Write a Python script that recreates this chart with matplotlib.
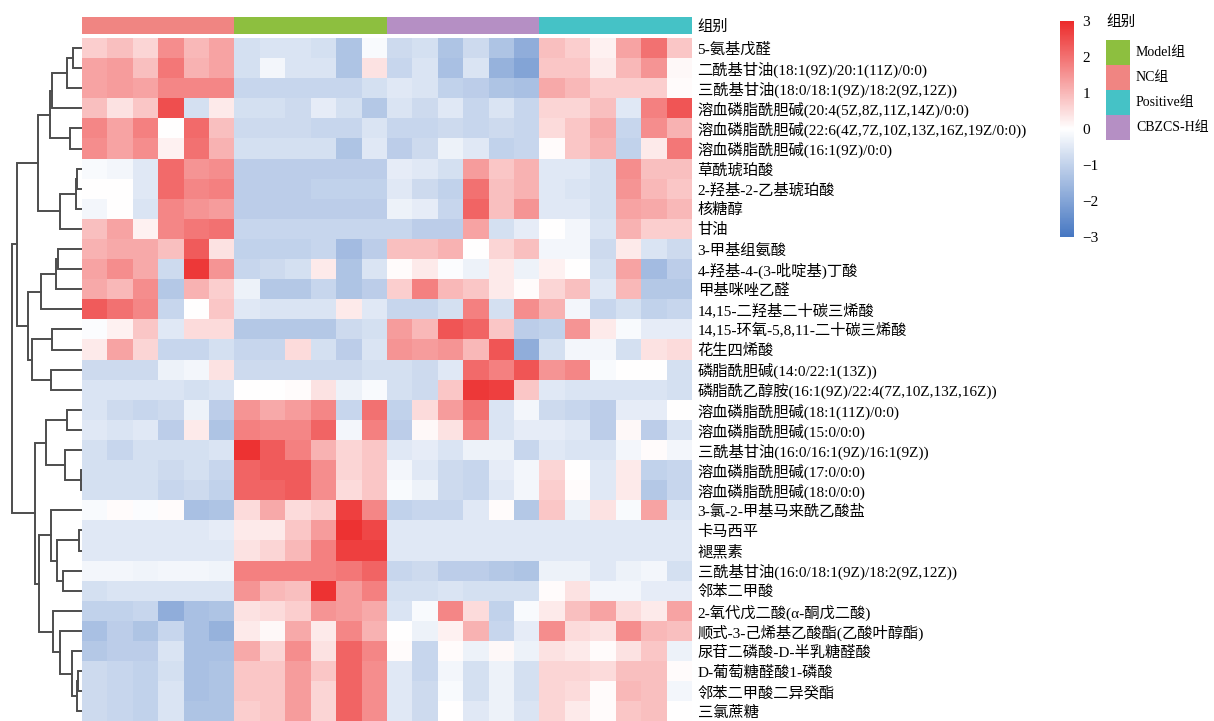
import numpy as np
import matplotlib
matplotlib.use("Agg")
import matplotlib.pyplot as plt
from matplotlib.colors import LinearSegmentedColormap, ListedColormap

plt.rcParams['font.family'] = ['Liberation Serif', 'Noto Sans CJK SC']

metabolites = [
    '5-氨基戊醛',
    '二酰基甘油(18:1(9Z)/20:1(11Z)/0:0)',
    '三酰基甘油(18:0/18:1(9Z)/18:2(9Z,12Z))',
    '溶血磷脂酰胆碱(20:4(5Z,8Z,11Z,14Z)/0:0)',
    '溶血磷脂酰胆碱(22:6(4Z,7Z,10Z,13Z,16Z,19Z/0:0))',
    '溶血磷脂酰胆碱(16:1(9Z)/0:0)',
    '草酰琥珀酸',
    '2-羟基-2-乙基琥珀酸',
    '核糖醇',
    '甘油',
    '3-甲基组氨酸',
    '4-羟基-4-(3-吡啶基)丁酸',
    '甲基咪唑乙醛',
    '14,15-二羟基二十碳三烯酸',
    '14,15-环氧-5,8,11-二十碳三烯酸',
    '花生四烯酸',
    '磷脂酰胆碱(14:0/22:1(13Z))',
    '磷脂酰乙醇胺(16:1(9Z)/22:4(7Z,10Z,13Z,16Z))',
    '溶血磷脂酰胆碱(18:1(11Z)/0:0)',
    '溶血磷脂酰胆碱(15:0/0:0)',
    '三酰基甘油(16:0/16:1(9Z)/16:1(9Z))',
    '溶血磷脂酰胆碱(17:0/0:0)',
    '溶血磷脂酰胆碱(18:0/0:0)',
    '3-氯-2-甲基马来酰乙酸盐',
    '卡马西平',
    '褪黑素',
    '三酰基甘油(16:0/18:1(9Z)/18:2(9Z,12Z))',
    '邻苯二甲酸',
    '2-氧代戊二酸(α-酮戊二酸)',
    '顺式-3-己烯基乙酸酯(乙酸叶醇酯)',
    '尿苷二磷酸-D-半乳糖醛酸',
    'D-葡萄糖醛酸1-磷酸',
    '邻苯二甲酸二异癸酯',
    '三氯蔗糖',
]

# column groups, left to right
groups = ['NC组', 'Model组', 'CBZCS-H组', 'Positive组']
group_colors = {'NC组': '#F08582', 'Model组': '#8DBF3F',
                'CBZCS-H组': '#B58FC4', 'Positive组': '#45C2C6'}
legend_order = ['Model组', 'NC组', 'Positive组', 'CBZCS-H组']

# z-scored abundance, 6 samples per group
nc_vals = [
    [0.7, 0.9, 0.6, 1.6, 1.0, 1.3],
    [1.3, 1.4, 0.9, 1.9, 1.1, 1.3],
    [1.3, 1.4, 1.3, 1.7, 1.7, 1.7],
    [0.9, 0.4, 0.8, 2.5, -0.7, 0.3],
    [1.7, 1.3, 1.8, 0.0, 2.1, 0.9],
    [1.6, 1.3, 1.6, 0.2, 2.0, 1.1],
    [-0.1, -0.2, -0.5, 2.1, 1.5, 1.6],
    [0.0, 0.0, -0.5, 2.1, 1.7, 1.8],
    [-0.2, 0.0, -0.6, 1.7, 1.5, 1.4],
    [0.9, 1.3, 0.2, 1.7, 1.9, 2.0],
    [1.1, 1.2, 1.2, 0.9, 2.3, 0.4],
    [1.3, 1.6, 1.2, -0.8, 2.8, 1.5],
    [1.2, 1.0, 1.6, -1.2, 1.1, 0.7],
    [2.3, 2.0, 1.7, -0.9, 0.0, 0.8],
    [-0.05, 0.2, 0.8, -0.5, 0.5, 0.5],
    [0.3, 1.3, 0.6, -0.9, -0.9, -0.7],
    [-0.8, -0.8, -0.8, -0.3, -0.2, 0.4],
    [-0.6, -0.6, -0.6, -0.6, -0.7, -0.6],
    [-0.6, -0.8, -0.9, -0.8, -0.3, -1.1],
    [-0.5, -0.6, -0.5, -1.1, 0.3, -1.3],
    [-0.7, -0.9, -0.7, -0.7, -0.7, -0.6],
    [-0.7, -0.7, -0.7, -0.8, -0.7, -0.9],
    [-0.7, -0.7, -0.7, -0.9, -0.8, -1.0],
    [-0.1, 0.05, -0.05, 0.05, -1.4, -1.3],
    [-0.5, -0.5, -0.5, -0.5, -0.5, -0.4],
    [-0.5, -0.5, -0.5, -0.5, -0.5, -0.5],
    [-0.2, -0.2, -0.25, -0.2, -0.2, -0.25],
    [-0.7, -0.6, -0.6, -0.6, -0.6, -0.6],
    [-1.0, -1.0, -0.9, -1.8, -1.4, -1.3],
    [-1.4, -1.1, -1.3, -0.9, -1.4, -1.7],
    [-1.2, -1.1, -1.1, -0.6, -1.4, -1.4],
    [-0.8, -0.9, -1.0, -0.7, -1.4, -1.3],
    [-0.8, -0.9, -1.0, -0.6, -1.4, -1.3],
    [-0.8, -0.9, -1.0, -0.6, -1.3, -1.3],
]
model_vals = [
    [-0.7, -0.6, -0.6, -0.7, -1.3, -0.1],
    [-0.7, -0.2, -0.6, -0.6, -1.3, 0.4],
    [-0.9, -0.9, -0.9, -0.9, -0.9, -0.7],
    [-0.7, -0.7, -0.8, -0.4, -0.7, -1.2],
    [-0.8, -0.8, -0.8, -0.9, -0.9, -0.6],
    [-0.7, -0.7, -0.7, -0.7, -1.3, -0.5],
    [-1.1, -1.1, -1.1, -1.1, -1.1, -1.1],
    [-1.1, -1.1, -1.1, -1.0, -1.0, -1.0],
    [-1.1, -1.1, -1.1, -1.1, -1.1, -1.1],
    [-0.9, -0.9, -0.9, -0.9, -0.9, -0.9],
    [-1.0, -1.0, -1.0, -0.9, -1.5, -1.1],
    [-0.9, -0.8, -0.7, 0.3, -1.3, -0.6],
    [-0.3, -1.2, -1.2, -0.9, -1.3, -1.1],
    [-0.5, -0.6, -0.6, -0.6, 0.3, -0.5],
    [-1.2, -1.2, -1.2, -1.2, -0.8, -0.7],
    [-0.9, -0.9, 0.5, -0.7, -1.1, -0.6],
    [-0.8, -0.8, -0.8, -0.8, -0.8, -0.7],
    [0.0, 0.0, 0.05, 0.4, -0.3, -0.1],
    [1.5, 1.2, 1.4, 1.7, -0.9, 2.0],
    [1.8, 1.7, 1.7, 2.2, -0.2, 1.8],
    [2.9, 2.3, 1.8, 1.1, 0.6, 0.8],
    [2.2, 2.3, 2.3, 1.6, 0.6, 0.8],
    [2.2, 2.2, 2.3, 1.6, 0.5, 0.8],
    [0.5, 1.2, 0.5, 0.7, 2.7, 1.7],
    [0.3, 0.3, 0.8, 1.4, 2.9, 2.6],
    [0.4, 0.6, 1.0, 1.8, 2.7, 2.7],
    [1.8, 1.8, 1.8, 1.8, 1.9, 2.2],
    [1.5, 1.0, 0.9, 2.9, 1.4, 1.8],
    [0.4, 0.5, 0.7, 1.5, 1.4, 1.2],
    [0.3, 0.1, 1.2, 0.3, 1.7, 1.1],
    [1.2, 0.6, 1.6, 0.4, 2.2, 1.7],
    [0.8, 0.8, 1.4, 0.8, 2.2, 1.6],
    [0.8, 0.8, 1.4, 0.6, 2.2, 1.6],
    [0.7, 0.8, 1.4, 0.6, 2.2, 1.6],
]
cbzcs_vals = [
    [-0.8, -0.7, -1.3, -0.8, -1.3, -1.8],
    [-0.9, -0.6, -1.4, -0.6, -1.7, -2.0],
    [-0.5, -0.6, -1.0, -1.1, -1.3, -1.4],
    [-0.6, -0.8, -0.5, -0.9, -0.6, -0.9],
    [-0.9, -0.9, -0.8, -0.9, -0.8, -0.9],
    [-1.1, -0.8, -0.3, -0.5, -1.0, -0.9],
    [-0.4, -0.5, -0.7, 1.4, 0.8, 1.1],
    [-0.5, -0.8, -1.0, 2.0, 0.9, 1.1],
    [-0.3, -0.4, -0.9, 2.2, 0.9, 1.5],
    [-0.9, -1.1, -1.1, 1.3, -0.7, -0.4],
    [0.9, 0.9, 1.1, 0.0, 0.6, 0.9],
    [0.05, 0.3, -0.05, -0.3, 0.3, -0.3],
    [0.7, 1.8, 1.0, 0.8, 0.3, 0.05],
    [-0.9, -0.9, -0.7, 1.8, -0.7, 1.6],
    [1.4, 1.0, 2.4, 2.2, 0.8, -1.1],
    [1.5, 1.4, 1.5, 1.0, 2.4, -1.8],
    [-0.7, -0.8, -0.5, 2.1, 1.8, 2.4],
    [-0.7, -0.8, 0.8, 2.8, 2.7, 0.8],
    [-1.0, 0.5, 1.4, 2.0, -0.6, -0.2],
    [-1.1, 0.1, 0.4, 1.7, -0.6, -0.4],
    [-0.5, -0.4, -0.6, -0.3, -0.3, -0.9],
    [-0.2, -0.5, -0.8, -0.9, -0.4, -0.2],
    [-0.1, -0.3, -0.8, -0.9, -0.5, -0.2],
    [-1.0, -0.9, -0.9, -0.5, 0.05, -1.2],
    [-0.5, -0.5, -0.5, -0.5, -0.5, -0.5],
    [-0.5, -0.5, -0.5, -0.5, -0.5, -0.5],
    [-0.9, -0.8, -1.1, -1.1, -1.2, -1.3],
    [-0.7, -0.7, -0.6, -0.7, -0.7, -0.7],
    [-0.6, -0.1, 1.7, 0.5, -1.0, -0.1],
    [0.0, -0.3, 0.2, 1.1, -0.9, -0.4],
    [0.05, -0.9, 0.05, -0.3, 0.1, -0.3],
    [-0.5, -0.9, -0.2, -0.7, -0.3, -0.7],
    [-0.5, -0.8, -0.1, -0.7, -0.3, -0.7],
    [-0.5, -0.8, 0.0, -0.5, -0.3, -0.6],
]
positive_vals = [
    [0.9, 0.7, 0.2, 1.3, 2.0, 0.8],
    [0.8, 0.8, 0.3, 1.0, 1.5, 0.1],
    [1.2, 1.0, 0.7, 0.7, 0.7, 0.05],
    [0.6, 0.6, 0.9, -0.5, 1.8, 2.4],
    [0.5, 0.8, 1.2, -0.9, 1.6, 1.1],
    [0.05, 0.8, 1.1, -1.0, 0.3, 1.9],
    [-0.5, -0.5, -0.7, 1.6, 0.9, 0.9],
    [-0.5, -0.6, -0.7, 1.5, 1.0, 0.8],
    [-0.5, -0.5, -0.7, 1.3, 1.2, 1.0],
    [0.0, -0.2, -0.6, 1.1, 0.7, 0.7],
    [-0.2, -0.2, -0.8, 0.3, -0.6, -0.8],
    [0.2, 0.0, -0.7, 1.3, -1.5, -1.1],
    [0.6, 0.9, -0.5, 1.0, -1.2, -1.2],
    [1.1, -0.2, -0.9, -0.7, -1.0, -0.9],
    [-1.0, 1.5, 0.3, -0.1, -0.4, -0.4],
    [-0.7, -0.2, -0.2, -0.7, 0.4, 0.5],
    [1.5, 1.7, -0.1, 0.0, 0.0, -0.7],
    [-0.5, -0.6, -0.6, -0.6, -0.6, -0.7],
    [-0.8, -0.9, -1.1, -0.4, -0.4, 0.0],
    [-0.4, -0.5, -1.1, 0.1, -1.1, -0.6],
    [-0.5, -0.6, -0.6, -0.2, 0.05, -0.2],
    [0.6, 0.0, -0.5, 0.3, -1.0, -0.9],
    [0.7, 0.05, -0.5, 0.3, -1.2, -0.9],
    [0.8, -0.3, 0.4, -0.1, 1.3, -0.6],
    [-0.5, -0.5, -0.5, -0.5, -0.5, -0.5],
    [-0.5, -0.5, -0.5, -0.5, -0.5, -0.5],
    [-0.3, -0.3, -0.5, -0.3, -0.2, -0.7],
    [0.05, 0.4, -0.2, -0.2, -0.4, -0.4],
    [0.3, 0.9, 1.3, 0.5, 0.3, 1.3],
    [1.6, 0.5, 0.4, 1.6, 1.0, 0.9],
    [0.4, 0.3, 0.05, 0.4, 0.8, -0.3],
    [0.6, 0.6, 0.5, 0.9, 0.9, 0.05],
    [0.6, 0.5, 0.05, 1.0, 0.9, -0.2],
    [0.6, 0.3, 0.05, 0.8, 0.9, 0.0],
]

# row clustering: (child_a, child_b, height); ids >= 34 are earlier merges
row_linkage = [
    (0, 1, 9), (34, 2, 15), (35, 3, 30), (4, 5, 12), (36, 37, 32),
    (6, 7, 5), (39, 8, 6), (40, 9, 22), (38, 41, 44),
    (10, 11, 24), (43, 12, 26), (44, 13, 41), (14, 15, 30), (16, 17, 31),
    (46, 47, 50), (45, 48, 54), (42, 49, 65),
    (18, 19, 15), (21, 22, 1), (20, 52, 17), (51, 53, 36),
    (24, 25, 3), (26, 27, 19), (55, 56, 25), (23, 57, 31),
    (31, 32, 4), (59, 33, 5), (30, 60, 10), (29, 61, 22), (28, 62, 29),
    (58, 63, 43), (54, 64, 47), (50, 65, 70),
]

W, H = 1214, 721
fig = plt.figure(figsize=(W / 100, H / 100), dpi=100)


def px_axes(x, y, w, h):
    return fig.add_axes([x / W, 1 - (y + h) / H, w / W, h / H])


data = np.hstack([np.array(nc_vals), np.array(model_vals),
                  np.array(cbzcs_vals), np.array(positive_vals)])
n_rows, n_cols = data.shape
cmap = LinearSegmentedColormap.from_list('bwr_soft', ['#4677C2', '#FFFFFF', '#EC2B2B'])

# main heatmap
ax = px_axes(82, 38, 610, 683.4)
mesh = ax.pcolormesh(np.arange(n_cols + 1), np.arange(n_rows + 1), data,
                     cmap=cmap, vmin=-3, vmax=3)
ax.set_xlim(0, n_cols)
ax.set_ylim(n_rows, 0)
ax.yaxis.tick_right()
ax.set_yticks(np.arange(n_rows) + 0.5)
ax.set_yticklabels(metabolites, fontsize=11)
ax.set_xticks([])
ax.tick_params(axis='y', length=0, pad=4)
for s in ax.spines.values():
    s.set_visible(False)

# group annotation bar
n_per = n_cols // len(groups)
grp_idx = np.repeat(np.arange(len(groups)), n_per)[None, :]
ax_g = px_axes(82, 16.5, 610, 17)
ax_g.pcolormesh(np.arange(n_cols + 1), [0, 1], grp_idx,
                cmap=ListedColormap([group_colors[g] for g in groups]),
                vmin=-0.5, vmax=len(groups) - 0.5)
ax_g.set_xlim(0, n_cols)
ax_g.set_ylim(1, 0)
ax_g.yaxis.tick_right()
ax_g.set_yticks([0.5])
ax_g.set_yticklabels(['组别'], fontsize=11)
ax_g.set_xticks([])
ax_g.tick_params(axis='y', length=0, pad=4)
for s in ax_g.spines.values():
    s.set_visible(False)

# row dendrogram
ax_d = px_axes(0, 38, 82, 683.4)
pos = {i: i + 0.5 for i in range(n_rows)}
hgt = {i: 0.0 for i in range(n_rows)}
for k, (a, b, h) in enumerate(row_linkage):
    ya, yb = pos[a], pos[b]
    ax_d.plot([hgt[a], h, h, hgt[b]], [ya, ya, yb, yb],
              color='#4d4d4d', lw=1.4, solid_joinstyle='miter')
    pos[n_rows + k] = (ya + yb) / 2
    hgt[n_rows + k] = h
ax_d.set_xlim(82, 0)
ax_d.set_ylim(n_rows, 0)
ax_d.axis('off')

# colour bar
cax = px_axes(1060, 21, 14, 216)
cb = fig.colorbar(mesh, cax=cax, ticks=[-3, -2, -1, 0, 1, 2, 3])
cb.outline.set_visible(False)
cb.ax.tick_params(length=0, pad=6, labelsize=11)

# group legend
fig.text(1106 / W, 1 - 22 / H, '组别', fontsize=10.5, va='center', ha='left')
ax_l = px_axes(1106, 40, 24, 100)
ax_l.barh(np.arange(len(legend_order)), 1, height=1.0,
          color=[group_colors[g] for g in legend_order])
ax_l.set_xlim(0, 1)
ax_l.set_ylim(len(legend_order) - 0.5, -0.5)
ax_l.axis('off')
for i, g in enumerate(legend_order):
    fig.text(1136 / W, 1 - (52.5 + 25 * i) / H, g, fontsize=10,
             va='center', ha='left')

fig.savefig('out.png', dpi=100)
